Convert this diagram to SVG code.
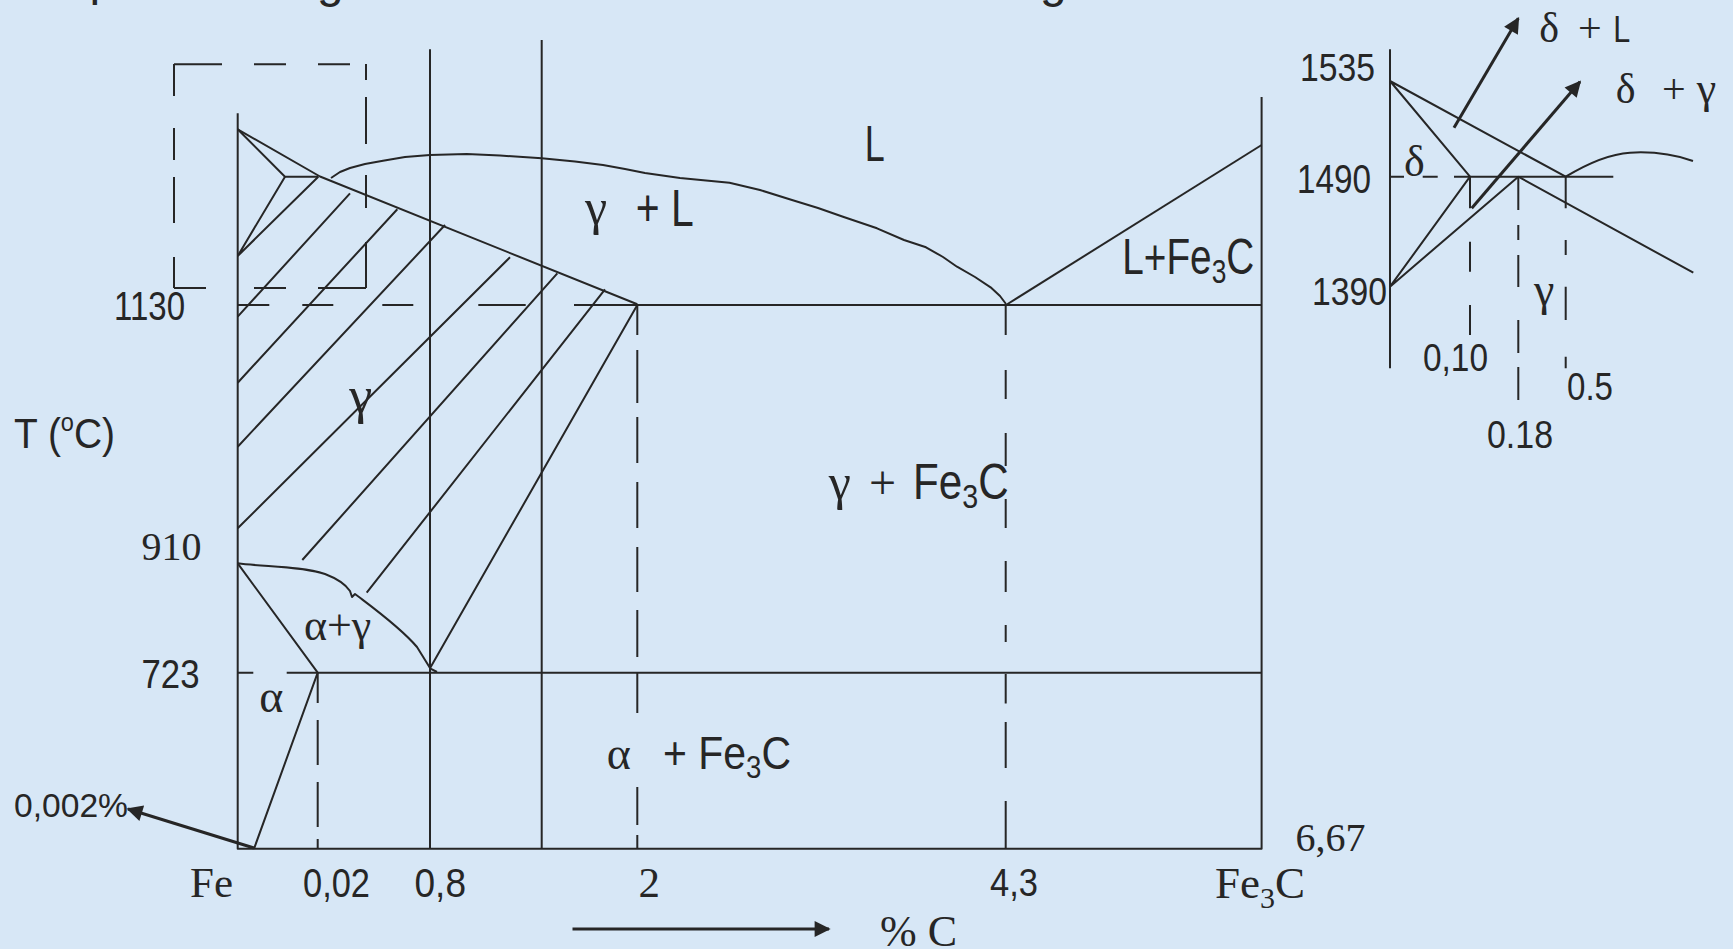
<svg xmlns="http://www.w3.org/2000/svg" width="1733" height="949" viewBox="0 0 1733 949">
<defs>
<style>
.ln{fill:none;stroke:#262626;stroke-width:2;stroke-linejoin:round}
.ar{fill:none;stroke:#262626;stroke-width:3}
.sn{font-family:"Liberation Sans",Arial,sans-serif;fill:#262626}
.sf{font-family:"Liberation Serif","Times New Roman",serif;fill:#262626}
</style>
<marker id="ah" viewBox="0 0 10 10" refX="9" refY="5" markerWidth="22" markerHeight="16" markerUnits="userSpaceOnUse" orient="auto"><path d="M0,0 L10,5 L0,10 z" fill="#262626"/></marker>
</defs>
<rect x="0" y="0" width="1733" height="949" fill="#d7e7f6"/>

<g id="title-fragments">
<text class="sn" x="89.5" y="-5" font-size="48">p</text>
<text class="sn" x="317" y="-3.5" font-size="48">g</text>
<text class="sn" x="1040" y="-3.5" font-size="48">g</text>
</g>

<g id="connectors">
<path class="ln" d="M237.7,113.3 V848.8 H1261.6 V97"/>
<path class="ln" d="M430,49.3 V848.8 M541.7,40 V848.8"/>
<path class="ln" d="M237.7,672.7 H253.3 M286.7,672.7 H1261.6"/>
<path class="ln" d="M237.7,305 H269.3 M302.3,305 H333.3 M382.3,305 H413.3 M478.3,305 H525.7 M574,305 H1261.6"/>
<path class="ln" d="M174,64.3 H222 M254,64.3 H286 M318,64.3 H350 M366,64 V80 M366,97 V144 M366,175 V208 M366,242 V288 M174,64 V96 M174,128 V160 M174,177 V223 M174,257 V288 M174,288 H206 M254,288 H286 M318,288 H366"/>
<path class="ln" d="M237.7,129.3 L285,176.7 L318.3,176.7"/>
<path class="ln" d="M285,176.7 L237.7,256 M318.3,176.7 L237.7,256"/>
<path class="ln" d="M237.7,129.3 L320,176.5 L637.3,304.3"/>
<path class="ln" d="M350,193.3 L237.7,316.7 M397.3,209.3 L237.7,382.7 M445,225 L237.7,446.7 M510,257.3 L237.7,528.3 M557.3,273.3 L302.3,560 M605,289.3 L366.7,592.7"/>
<path class="ln" d="M637.3,305 L430,668.3 L437,672"/>
<path class="ln" d="M237.7,563.3 C265,567 300,566 325,574 C338,579 346,585 350,591 L352,597 L355,594 C372,607 400,627 417,647 L430,668"/>
<path class="ln" d="M237.7,563.3 L317.7,672.7 M254,848.8 L317.7,672.7"/>
<path class="ln" d="M317.7,672.7 V703 M317.7,720 V765 M317.7,782 V827 M317.7,839 V848.8"/>
<path class="ln" d="M637.3,305 V335 M637.3,350 V403 M637.3,417 V463 M637.3,482 V528 M637.3,547 V592 M637.3,610 V657 M637.3,673 V713 M637.3,787 V825 M637.3,835 V848.8"/>
<path class="ln" d="M1005.7,305 V335 M1005.7,370 V399 M1005.7,433 V466 M1005.7,499 V528 M1005.7,561 V592 M1005.7,625 V642 M1005.7,674 V703.5 M1005.7,722 V768 M1005.7,801 V848.8"/>
<path class="ln" d="M331,178 L340,172 L350,168 L365,164 L383,160.7 L405,157 L430,155 L466.7,154 L500,155.5 L541.7,158.3 L575,161.5 L603,165 L625,169 L645,173 L680,178 L729.5,182.7 L760,190 L792,200 L818,208 L843,216.7 L877,228.3 L904,240 L926,247.3 L943,257 L957,266.7 L975,277 L990.6,287.3 L1000,296 L1006,304"/>
<path class="ln" d="M1006,305 L1261.6,145"/>
<path class="ar" d="M254,848 L128,809" marker-end="url(#ah)"/>
<path class="ar" d="M572.5,929 L829,929" marker-end="url(#ah)"/>

<path class="ln" d="M1390,49.3 V368.3"/>
<path class="ln" d="M1390,176.7 H1404 M1422.7,176.7 H1437.7 M1454,176.7 H1613.3"/>
<path class="ln" d="M1390,81 L1470,176.7 M1390,81 L1565.7,176.7 M1390,286.7 L1470,176.7 M1390,286.7 L1518.3,176.7 M1518.3,176.7 L1693.3,272.7"/>
<path class="ln" d="M1565.7,176.7 C1585,165 1610,154 1630,152.7 C1650,151.5 1670,153 1693,161"/>
<path class="ln" d="M1470,176.7 V208.3 M1470,241.7 V271.7 M1470,305 V335"/>
<path class="ln" d="M1518.3,176.7 V210 M1518.3,225 V240 M1518.3,255 V287 M1518.3,320 V353 M1518.3,367 V400"/>
<path class="ln" d="M1565.7,176.7 V208.3 M1565.7,240 V255 M1565.7,286.7 V320 M1565.7,356.7 V368.3"/>
<path class="ar" d="M1454,127.7 L1518.3,18.3" marker-end="url(#ah)"/>
<path class="ar" d="M1471.7,208.3 L1580,81.7" marker-end="url(#ah)"/>
</g>

<g id="labels">
<text class="sn" x="114" y="320" font-size="41" textLength="71" lengthAdjust="spacingAndGlyphs">1130</text>
<text class="sn" x="14" y="448" font-size="43" textLength="101" lengthAdjust="spacingAndGlyphs">T (<tspan font-size="26" dy="-17">o</tspan><tspan dy="17">C)</tspan></text>
<text class="sf" x="141.5" y="560" font-size="40">910</text>
<text class="sn" x="141.5" y="688" font-size="41" textLength="58" lengthAdjust="spacingAndGlyphs">723</text>
<text class="sn" x="14" y="817" font-size="33" textLength="114" lengthAdjust="spacingAndGlyphs">0,002%</text>
<text class="sf" x="190" y="896.7" font-size="43">Fe</text>
<text class="sn" x="303" y="896.7" font-size="40" textLength="67" lengthAdjust="spacingAndGlyphs">0,02</text>
<text class="sn" x="414.5" y="896.7" font-size="40" textLength="51.5" lengthAdjust="spacingAndGlyphs">0,8</text>
<text class="sf" x="638.4" y="896.7" font-size="43">2</text>
<text class="sn" x="990" y="896" font-size="38" textLength="48" lengthAdjust="spacingAndGlyphs">4,3</text>
<text class="sf" x="1215" y="898" font-size="45">Fe<tspan font-size="30" dy="10">3</tspan><tspan dy="-10">C</tspan></text>
<text class="sf" x="1295.6" y="850.5" font-size="40">6,67</text>
<text class="sf" x="880" y="945.7" font-size="44">% C</text>

<text class="sn" x="864.7" y="160.7" font-size="50" textLength="20" lengthAdjust="spacingAndGlyphs">L</text>
<text class="sf" x="585" y="224" font-size="50">γ</text>
<text class="sn" x="635.7" y="226" font-size="52" textLength="58" lengthAdjust="spacingAndGlyphs">+ L</text>
<text class="sn" x="1122.3" y="274" font-size="50" textLength="132" lengthAdjust="spacingAndGlyphs">L+Fe<tspan font-size="34" dy="9">3</tspan><tspan dy="-9">C</tspan></text>
<text class="sf" x="828.7" y="498.7" font-size="50">γ</text>
<text class="sf" x="869" y="498.7" font-size="48">+</text>
<text class="sn" x="913" y="498.7" font-size="50" textLength="95.6" lengthAdjust="spacingAndGlyphs">Fe<tspan font-size="34" dy="9">3</tspan><tspan dy="-9">C</tspan></text>
<text class="sf" x="606.8" y="769" font-size="46">α</text>
<text class="sn" x="663" y="769" font-size="46" textLength="128" lengthAdjust="spacingAndGlyphs">+ Fe<tspan font-size="31" dy="9">3</tspan><tspan dy="-9">C</tspan></text>
<text class="sf" x="349.3" y="413" font-size="52">γ</text>
<text class="sf" x="304" y="640" font-size="44">α+γ</text>
<text class="sf" x="259.3" y="711.7" font-size="46">α</text>

<text class="sn" x="1300" y="80.7" font-size="38" textLength="75" lengthAdjust="spacingAndGlyphs">1535</text>
<text class="sn" x="1297" y="192.7" font-size="40" textLength="74" lengthAdjust="spacingAndGlyphs">1490</text>
<text class="sn" x="1312" y="305" font-size="39" textLength="75" lengthAdjust="spacingAndGlyphs">1390</text>
<text class="sn" x="1423" y="371" font-size="39" textLength="65" lengthAdjust="spacingAndGlyphs">0,10</text>
<text class="sn" x="1567" y="400" font-size="39" textLength="46" lengthAdjust="spacingAndGlyphs">0.5</text>
<text class="sn" x="1487" y="448" font-size="39" textLength="66" lengthAdjust="spacingAndGlyphs">0.18</text>
<text class="sf" x="1404" y="175.7" font-size="44">δ</text>
<text class="sf" x="1534" y="305" font-size="46">γ</text>
<text class="sf" x="1539.3" y="41.7" font-size="42">δ</text>
<text class="sf" x="1578" y="41.7" font-size="42">+</text>
<text class="sn" x="1613.3" y="41.7" font-size="37" textLength="17" lengthAdjust="spacingAndGlyphs">L</text>
<text class="sf" x="1615.7" y="103.3" font-size="42">δ</text>
<text class="sf" x="1662" y="103.3" font-size="42">+</text>
<text class="sf" x="1696.7" y="103.3" font-size="44">γ</text>
</g>
</svg>
